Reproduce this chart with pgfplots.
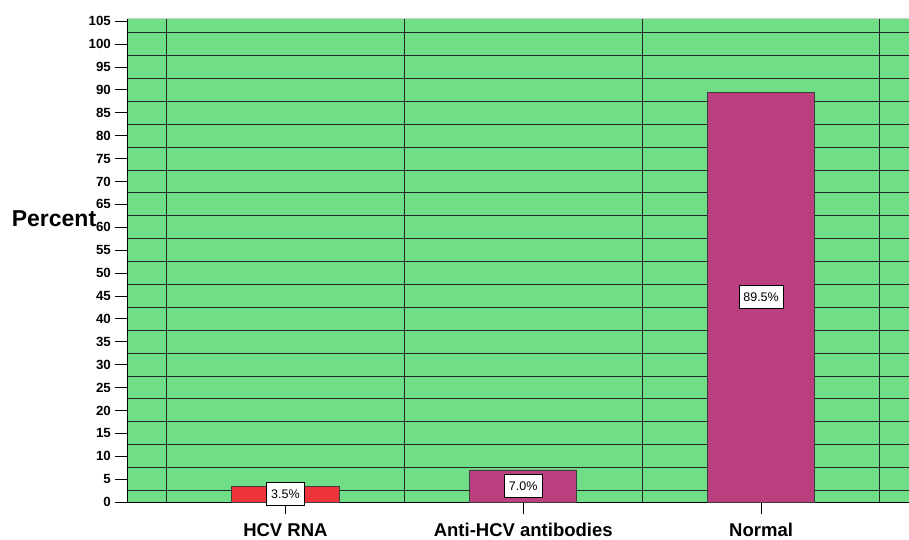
\documentclass[border=0pt]{standalone}
\usepackage{fontspec}
\setmainfont{Liberation Sans}
\usepackage{pgfplots}
\pgfplotsset{compat=1.18}
\definecolor{bggreen}{RGB}{112,222,135}
\definecolor{barred}{RGB}{238,51,58}
\definecolor{barmag}{RGB}{186,63,126}
\begin{document}
\begin{tikzpicture}
\useasboundingbox (0pt,0pt) rectangle (909pt,-539pt);
\begin{axis}[
  at={(127pt,-502pt)}, anchor=south west,
  scale only axis, width=782pt, height=484pt,
  xmin=-0.666, xmax=2.622, ymin=0, ymax=105.7,
  clip=false,
  axis background/.style={fill=bggreen},
  axis x line*=bottom, axis y line*=left,
  axis line style={black, line width=1pt},
  xtick={0,1,2},
  xticklabels={HCV RNA, Anti-HCV antibodies, Normal},
  minor xtick={-0.5,0.5,1.5,2.5},
  ytick={0,5,...,105},
  minor ytick={2.5,7.5,...,102.5},
  grid=minor,
  minor grid style={black!85, line width=1pt},
  minor tick length=0pt,
  tick align=outside,
  major tick length=12pt,
  major tick style={black, line width=0.9pt},
  /pgf/number format/assume math mode=true,
  yticklabel style={font=\fontsize{13.3}{15}\selectfont\bfseries, inner sep=4pt},
  xticklabel style={font=\fontsize{18.5}{21}\selectfont\bfseries, inner sep=0pt, yshift=-9pt},
  nodes near coords={\pgfmathprintnumber[fixed,precision=1,fixed zerofill]{\pgfplotspointmeta}\%},
  visualization depends on={rawy \as \ry},
  every node near coord/.append style={
    anchor=center, yshift={-2.29pt*\ry},
    font=\fontsize{12.5}{14}\selectfont,
    fill=white, draw=black, line width=0.6pt,
    inner xsep=4.5pt, inner ysep=0pt, minimum height=23pt},
]
\addplot[ybar, bar width=0.45, bar shift=0pt, fill=barred, draw=black!75, line width=0.8pt]
  coordinates {(0,3.5)};
\addplot[ybar, bar width=0.45, bar shift=0pt, fill=barmag, draw=black!75, line width=0.8pt]
  coordinates {(1,7.0) (2,89.5)};
\draw[gray!40, line width=1pt] (rel axis cs:0,1) -- (rel axis cs:1,1);
\end{axis}
\node[font=\fontsize{23}{25}\selectfont\bfseries, anchor=base] at (54pt,-226pt) {Percent};
\end{tikzpicture}
\end{document}
